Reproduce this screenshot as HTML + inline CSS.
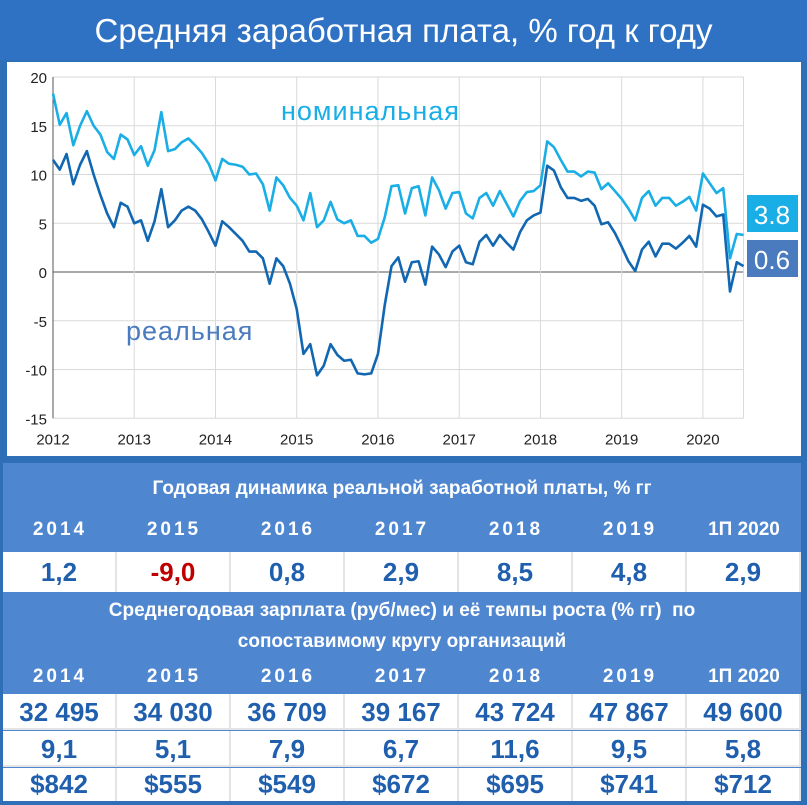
<!DOCTYPE html>
<html><head><meta charset="utf-8">
<style>
*{margin:0;padding:0;box-sizing:border-box}
body{width:807px;height:805px;background:#2f6fb8;font-family:"Liberation Sans",sans-serif;position:relative;overflow:hidden}
#title{position:absolute;left:0;top:0;width:807px;height:60px;background:#2f72c4;color:#fff;font-size:33px;text-align:center;line-height:62px}
#chart{position:absolute;left:7px;top:62px;width:794px;height:394px;background:#fff}
#tbl{position:absolute;left:3px;top:463px;width:798px;height:338px;background:#4f86d0}
.row{position:absolute;left:0;width:798px;display:flex}
.row div{flex:1;text-align:center;font-family:"Liberation Sans Narrow","Liberation Sans",sans-serif;font-weight:bold}
.hdr{color:#fff;font-size:19px;text-align:center;position:absolute;left:0;width:798px;font-family:"Liberation Sans Narrow","Liberation Sans",sans-serif;font-weight:bold}
.yr div{color:#fff;font-size:19px;letter-spacing:3px}
.wh{background:#fff}
.wh div{color:#1f5fae;font-size:26px;border-right:2px solid #e4e4e4}
</style></head><body>
<div id="title">Средняя заработная плата, % год к году</div>
<div id="chart">
<svg width="794" height="394" id="svg"></svg>
</div>
<div id="tbl">
<div class="hdr" style="top:6px;height:40px;line-height:40px">Годовая динамика реальной заработной платы, % гг</div>
<div class="row yr" style="top:45px;height:43px;line-height:43px"><div>2014</div><div>2015</div><div>2016</div><div>2017</div><div>2018</div><div>2019</div><div style="letter-spacing:0">1П 2020</div></div>
<div class="row wh" style="top:89px;height:40px;line-height:40px"><div>1,2</div><div style="color:#c00000">-9,0</div><div>0,8</div><div>2,9</div><div>8,5</div><div>4,8</div><div>2,9</div></div>
<div class="hdr" style="top:132px;height:62px;line-height:31px">Среднегодовая зарплата (руб/мес) и её темпы роста (% гг)&nbsp; по<br>сопоставимому кругу организаций</div>
<div class="row yr" style="top:194px;height:40px;line-height:40px"><div>2014</div><div>2015</div><div>2016</div><div>2017</div><div>2018</div><div>2019</div><div style="letter-spacing:0">1П 2020</div></div>
<div class="row wh" style="top:231px;height:36px;line-height:36px;border-bottom:2px solid #e4e4e4"><div>32 495</div><div>34 030</div><div>36 709</div><div>39 167</div><div>43 724</div><div>47 867</div><div>49 600</div></div>
<div class="row wh" style="top:268px;height:36px;line-height:36px;border-bottom:2px solid #e4e4e4"><div>9,1</div><div>5,1</div><div>7,9</div><div>6,7</div><div>11,6</div><div>9,5</div><div>5,8</div></div>
<div class="row wh" style="top:305px;height:33px;line-height:33px"><div>$842</div><div>$555</div><div>$549</div><div>$672</div><div>$695</div><div>$741</div><div>$712</div></div>
</div>
<script>
const yearLabels=["2012","2013","2014","2015","2016","2017","2018","2019","2020"];
const yTicks=[20,15,10,5,0,-5,-10,-15];
const nominal=[18.3,15.1,16.3,13,15,16.5,15,14.1,12.3,11.6,14.1,13.6,
12,12.9,10.9,12.5,16.4,12.4,12.6,13.3,13.7,13,12.2,11.1,
9.4,11.6,11.1,11,10.8,10,10.1,9,6.3,9.7,8.9,7.6,
6.8,5.3,8.1,4.6,5.3,7.2,5.4,5,5.3,3.7,3.7,3,
3.4,5.6,8.8,8.9,6,8.6,8.8,5.8,9.7,8.4,6.5,8.1,
8.2,6,5.5,7.6,8.1,6.8,8.3,7,5.7,7.3,8.2,8.3,
8.9,13.4,12.8,11.5,10.3,10.3,9.8,10.3,10.2,8.5,9.1,8.3,
7.5,6.5,5.3,7.6,8.3,6.8,7.6,7.6,6.8,7.2,7.7,6.3,
10.1,9.1,8.1,8.6,1.4,3.9,3.8];
const real=[11.5,10.5,12.1,9,11,12.4,10,7.9,6,4.6,7.1,6.7,
5,5.3,3.2,5.2,8.5,4.6,5.3,6.3,6.7,6.3,5.4,4.1,
2.7,5.2,4.6,3.9,3.2,2.1,2.1,1.4,-1.2,1.4,0.6,-1.2,
-3.8,-8.4,-7.4,-10.6,-9.6,-7.4,-8.5,-9.1,-9,-10.4,-10.5,-10.4,
-8.4,-3.4,0.6,1.5,-1,1,1.1,-1.3,2.6,1.8,0.5,2.1,
2.7,1,0.8,3.1,3.8,2.7,3.8,3,2.3,4.1,5.3,5.8,
6.1,10.9,10.4,8.7,7.6,7.6,7.3,7.5,6.8,4.9,5.1,4,
2.6,1.1,0.1,2.3,3.1,1.6,2.9,2.9,2.4,3,3.7,2.6,
6.9,6.5,5.7,5.9,-2,1,0.6];
const NS="http://www.w3.org/2000/svg";
const svg=document.getElementById('svg');
const X0=46,MONTHPX=6.77,YT=15,YUNIT=9.75;
function xs(i){return X0+i*MONTHPX}
function ys(v){return YT+(20-v)*YUNIT}
function mk(t,a){const e=document.createElementNS(NS,t);for(const k in a)e.setAttribute(k,a[k]);svg.appendChild(e);return e}
const xEnd=xs(nominal.length-1);
yTicks.forEach(t=>{
 const g=mk('line',{x1:X0,x2:xEnd,y1:ys(t),y2:ys(t),stroke:t===0?'#555':'#d9d9d9','stroke-width':1});
 
 
 const l=mk('text',{x:X0-6,y:ys(t)+6,'text-anchor':'end','font-size':15,fill:'#222','font-family':'Liberation Sans'});
 l.textContent=t;
 
 
});
yearLabels.forEach((y,k)=>{
 const x=xs(k*12);
 const g=mk('line',{x1:x,x2:x,y1:ys(20),y2:ys(-15),stroke:'#d9d9d9','stroke-width':1});
 
 
 const l=mk('text',{x:x,y:ys(-15)+26,'text-anchor':'middle','font-size':15,fill:'#222','font-family':'Liberation Sans'});
 l.textContent=y;
 
 
});
const rl=mk('line',{x1:xEnd,x2:xEnd,y1:ys(20),y2:ys(-15),stroke:'#d9d9d9'});


const ax=mk('line',{x1:X0,x2:X0,y1:ys(20),y2:ys(-15),stroke:'#555'});


function line(arr,col,name){
 const p=mk('polyline',{points:arr.map((v,i)=>xs(i)+','+ys(v)).join(' '),fill:'none',stroke:col,'stroke-width':2.6,'stroke-linejoin':'round'});
 
 
}
line(nominal,'#1aaee6','nominal-line');
line(real,'#1167b1','real-line');
const t1=mk('text',{x:274,y:58,'font-size':27,fill:'#1aaee6','font-family':'Liberation Sans','letter-spacing':1});
t1.textContent='номинальная';


const t2=mk('text',{x:119,y:278,'font-size':27,fill:'#4a7bbf','font-family':'Liberation Sans','letter-spacing':1});
t2.textContent='реальная';


function badge(y,txt,col,name){
 const r=mk('rect',{x:740,y:y,width:51,height:37,fill:col});
 
 
 const t=mk('text',{x:765,y:y+29,'text-anchor':'middle','font-size':26,fill:'#fff','font-family':'Liberation Sans'});
 t.textContent=txt;
 
 
}
badge(133,'3.8','#1aaee6','nominal-last-value');
badge(178,'0.6','#4a7bbf','real-last-value');
</script>
</body></html>
